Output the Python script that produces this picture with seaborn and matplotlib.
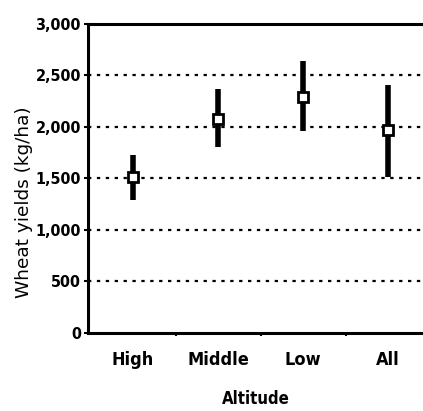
import matplotlib
matplotlib.use("Agg")
import matplotlib.pyplot as plt
import pandas as pd
import seaborn as sns

# values
altitude = ["High", "Middle", "Low", "All"]
yield_mid = [1510, 2080, 2290, 1965]
yield_low = [1290, 1800, 1955, 1515]
yield_high = [1730, 2365, 2640, 2410]
y_ticks = [0, 500, 1000, 1500, 2000, 2500, 3000]

df = pd.DataFrame({"Altitude": altitude, "mid": yield_mid,
                   "lo": yield_low, "hi": yield_high})

sns.set_style("ticks")
plt.rcParams["font.family"] = ["DejaVu Sans"]
plt.rcParams["font.stretch"] = "condensed"
plt.rcParams["text.color"] = "black"
plt.rcParams["axes.labelcolor"] = "black"
plt.rcParams["xtick.color"] = "black"
plt.rcParams["ytick.color"] = "black"

fig = plt.figure(figsize=(4.23, 4.11), dpi=100)
ax = fig.add_axes([0.208, 0.190, 0.792, 0.752])

ax.vlines(range(len(df)), df["lo"], df["hi"], color="black", lw=4, zorder=3)
sns.pointplot(data=df, x="Altitude", y="mid", linestyle="none", marker="s",
              color="black", markersize=7, markerfacecolor="white",
              markeredgewidth=2, errorbar=None, ax=ax)
for c in ax.collections + ax.lines:
    c.set_zorder(4)

for v in y_ticks[1:-1]:
    ax.axhline(v, color="black", lw=1.6, ls=(0, (1.5, 2.5)), zorder=1)

ax.set_ylim(0, 3000)
ax.set_xlim(-0.53, 3.41)
ax.set_yticks(y_ticks)
ax.set_yticklabels([f"{v:,}" for v in y_ticks], fontsize=11.5, fontweight="bold")
ax.set_xticks(range(len(altitude)))
ax.set_xticklabels(altitude, fontsize=13, fontweight="bold")
ax.set_xticks([0.5, 1.5, 2.5], minor=True)
ax.tick_params(axis="x", which="major", length=0, pad=13)
ax.tick_params(axis="x", which="minor", length=2, width=1.5)
ax.tick_params(axis="y", length=3, width=1.5, pad=2)

ax.set_ylabel("Wheat yields (kg/ha)", fontsize=13.3, fontstretch="normal")
ax.yaxis.set_label_coords(-0.165, 0.424)
ax.set_xlabel("Altitude", fontsize=12, fontweight="bold", labelpad=15)

for s in ["left", "bottom", "top"]:
    ax.spines[s].set_linewidth(2.2)
    ax.spines[s].set_color("black")
ax.spines["right"].set_visible(False)

fig.savefig("out.png", dpi=100)
